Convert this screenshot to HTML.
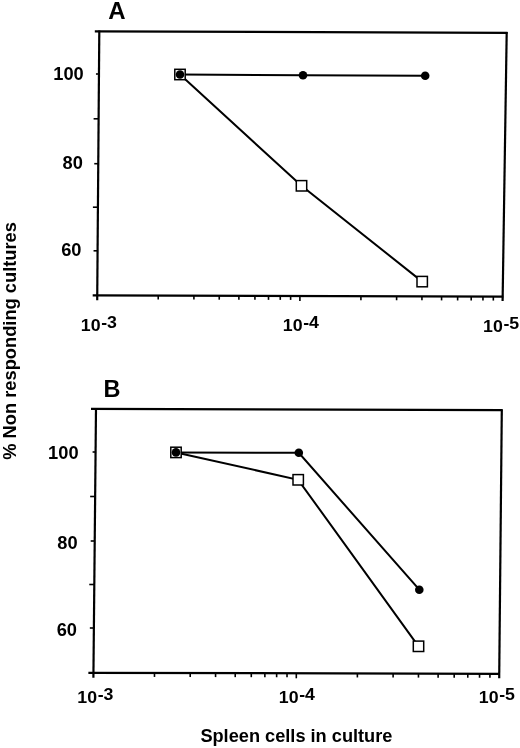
<!DOCTYPE html>
<html><head><meta charset="utf-8"><style>
html,body{margin:0;padding:0;background:#fff;}
svg{display:block;}
text{font-family:"Liberation Sans",Arial,Helvetica,sans-serif;font-weight:bold;fill:#000;}
</style></head><body>
<svg width="520" height="748" viewBox="0 0 520 748">
<rect width="520" height="748" fill="#fff"/>
<g stroke="#000" stroke-linecap="butt">
<line x1="94.80" y1="31.30" x2="507.50" y2="32.80" stroke-width="2.2"/>
<line x1="92.70" y1="295.30" x2="503.40" y2="296.60" stroke-width="2.2"/>
<line x1="99.30" y1="30.50" x2="97.20" y2="300.30" stroke-width="2.2"/>
<line x1="506.70" y1="32.00" x2="502.60" y2="301.10" stroke-width="2.2"/>
<line x1="158.22" y1="295.50" x2="158.22" y2="299.50" stroke-width="1.6"/>
<line x1="193.91" y1="295.61" x2="193.91" y2="299.61" stroke-width="1.6"/>
<line x1="219.24" y1="295.69" x2="219.24" y2="299.69" stroke-width="1.6"/>
<line x1="238.88" y1="295.75" x2="238.88" y2="299.75" stroke-width="1.6"/>
<line x1="254.93" y1="295.81" x2="254.93" y2="299.81" stroke-width="1.6"/>
<line x1="268.50" y1="295.85" x2="268.50" y2="299.85" stroke-width="1.6"/>
<line x1="280.26" y1="295.89" x2="280.26" y2="299.89" stroke-width="1.6"/>
<line x1="290.62" y1="295.92" x2="290.62" y2="299.92" stroke-width="1.6"/>
<line x1="299.90" y1="295.95" x2="299.90" y2="300.95" stroke-width="1.6"/>
<line x1="360.92" y1="296.15" x2="360.92" y2="300.15" stroke-width="1.6"/>
<line x1="396.61" y1="296.26" x2="396.61" y2="300.26" stroke-width="1.6"/>
<line x1="421.94" y1="296.34" x2="421.94" y2="300.34" stroke-width="1.6"/>
<line x1="441.58" y1="296.40" x2="441.58" y2="300.40" stroke-width="1.6"/>
<line x1="457.63" y1="296.46" x2="457.63" y2="300.46" stroke-width="1.6"/>
<line x1="471.20" y1="296.50" x2="471.20" y2="300.50" stroke-width="1.6"/>
<line x1="482.96" y1="296.54" x2="482.96" y2="300.54" stroke-width="1.6"/>
<line x1="493.32" y1="296.57" x2="493.32" y2="300.57" stroke-width="1.6"/>
<line x1="95.96" y1="74.00" x2="98.96" y2="74.00" stroke-width="1.6"/>
<line x1="93.60" y1="118.80" x2="98.60" y2="118.80" stroke-width="1.6"/>
<line x1="94.25" y1="163.70" x2="98.25" y2="163.70" stroke-width="1.6"/>
<line x1="92.90" y1="207.20" x2="97.90" y2="207.20" stroke-width="1.6"/>
<line x1="93.55" y1="250.80" x2="97.55" y2="250.80" stroke-width="1.6"/>
<polyline fill="none" stroke-width="2" points="180,74.5 303,75.3 425.2,75.8"/>
<polyline fill="none" stroke-width="2" points="180,74.5 301.5,185.8 422.2,281.6"/>
<rect x="174.80" y="69.30" width="10.4" height="10.4" fill="#fff" stroke-width="1.5"/>
<rect x="296.30" y="180.60" width="10.4" height="10.4" fill="#fff" stroke-width="1.5"/>
<rect x="417.00" y="276.40" width="10.4" height="10.4" fill="#fff" stroke-width="1.5"/>
<circle cx="180" cy="74.5" r="4.3" fill="#000" stroke="none"/>
<circle cx="303" cy="75.3" r="4.3" fill="#000" stroke="none"/>
<circle cx="425.2" cy="75.8" r="4.3" fill="#000" stroke="none"/>
<line x1="91.00" y1="408.90" x2="502.60" y2="410.20" stroke-width="2.2"/>
<line x1="88.40" y1="672.80" x2="500.00" y2="673.80" stroke-width="2.2"/>
<line x1="96.00" y1="408.10" x2="93.40" y2="677.80" stroke-width="2.2"/>
<line x1="501.80" y1="409.40" x2="499.20" y2="678.30" stroke-width="2.2"/>
<line x1="154.48" y1="672.95" x2="154.48" y2="676.95" stroke-width="1.6"/>
<line x1="190.21" y1="673.04" x2="190.21" y2="677.04" stroke-width="1.6"/>
<line x1="215.56" y1="673.10" x2="215.56" y2="677.10" stroke-width="1.6"/>
<line x1="235.22" y1="673.15" x2="235.22" y2="677.15" stroke-width="1.6"/>
<line x1="251.29" y1="673.19" x2="251.29" y2="677.19" stroke-width="1.6"/>
<line x1="264.87" y1="673.22" x2="264.87" y2="677.22" stroke-width="1.6"/>
<line x1="276.64" y1="673.25" x2="276.64" y2="677.25" stroke-width="1.6"/>
<line x1="287.02" y1="673.28" x2="287.02" y2="677.28" stroke-width="1.6"/>
<line x1="296.30" y1="673.30" x2="296.30" y2="678.30" stroke-width="1.6"/>
<line x1="357.38" y1="673.45" x2="357.38" y2="677.45" stroke-width="1.6"/>
<line x1="393.11" y1="673.54" x2="393.11" y2="677.54" stroke-width="1.6"/>
<line x1="418.46" y1="673.60" x2="418.46" y2="677.60" stroke-width="1.6"/>
<line x1="438.12" y1="673.65" x2="438.12" y2="677.65" stroke-width="1.6"/>
<line x1="454.19" y1="673.69" x2="454.19" y2="677.69" stroke-width="1.6"/>
<line x1="467.77" y1="673.72" x2="467.77" y2="677.72" stroke-width="1.6"/>
<line x1="479.54" y1="673.75" x2="479.54" y2="677.75" stroke-width="1.6"/>
<line x1="489.92" y1="673.78" x2="489.92" y2="677.78" stroke-width="1.6"/>
<line x1="92.58" y1="452.00" x2="95.58" y2="452.00" stroke-width="1.6"/>
<line x1="90.14" y1="496.50" x2="95.14" y2="496.50" stroke-width="1.6"/>
<line x1="90.70" y1="541.00" x2="94.70" y2="541.00" stroke-width="1.6"/>
<line x1="89.27" y1="584.50" x2="94.27" y2="584.50" stroke-width="1.6"/>
<line x1="89.84" y1="628.00" x2="93.84" y2="628.00" stroke-width="1.6"/>
<polyline fill="none" stroke-width="2" points="176,452.4 298.8,452.8 419.3,589.7"/>
<polyline fill="none" stroke-width="2" points="176,452.4 298.2,479.8 418.5,646.3"/>
<rect x="170.80" y="447.20" width="10.4" height="10.4" fill="#fff" stroke-width="1.5"/>
<rect x="293.00" y="474.60" width="10.4" height="10.4" fill="#fff" stroke-width="1.5"/>
<rect x="413.30" y="641.10" width="10.4" height="10.4" fill="#fff" stroke-width="1.5"/>
<circle cx="176" cy="452.4" r="4.3" fill="#000" stroke="none"/>
<circle cx="298.8" cy="452.8" r="4.3" fill="#000" stroke="none"/>
<circle cx="419.3" cy="589.7" r="4.3" fill="#000" stroke="none"/>
</g>
<g>
<text x="108.2" y="19.2" font-size="24" text-anchor="start" >A</text>
<text x="103.6" y="396.6" font-size="23.5" text-anchor="start" >B</text>
<text transform="translate(83.7,79.6) scale(1.045,1)" font-size="17.5" text-anchor="end">100</text>
<text transform="translate(82.9,168.9) scale(1.045,1)" font-size="17.5" text-anchor="end">80</text>
<text transform="translate(81.5,256.2) scale(1.045,1)" font-size="17.5" text-anchor="end">60</text>
<text transform="translate(78.6,459.3) scale(1.045,1)" font-size="17.5" text-anchor="end">100</text>
<text transform="translate(77.6,548.5) scale(1.045,1)" font-size="17.5" text-anchor="end">80</text>
<text transform="translate(77.0,635.7) scale(1.045,1)" font-size="17.5" text-anchor="end">60</text>
<text transform="translate(98.9,330.8) scale(1.045,1)" font-size="17" text-anchor="middle">10<tspan dx="0.6" dy="-3.0">-3</tspan></text>
<text transform="translate(300.9,330.9) scale(1.045,1)" font-size="17" text-anchor="middle">10<tspan dx="0.6" dy="-3.0">-4</tspan></text>
<text transform="translate(501.1,331.6) scale(1.045,1)" font-size="17" text-anchor="middle">10<tspan dx="0.6" dy="-3.0">-5</tspan></text>
<text transform="translate(95.4,702.5) scale(1.045,1)" font-size="17" text-anchor="middle">10<tspan dx="0.6" dy="-3.0">-3</tspan></text>
<text transform="translate(296.9,702.6) scale(1.045,1)" font-size="17" text-anchor="middle">10<tspan dx="0.6" dy="-3.0">-4</tspan></text>
<text transform="translate(496.9,702.8) scale(1.045,1)" font-size="17" text-anchor="middle">10<tspan dx="0.6" dy="-3.0">-5</tspan></text>
<text x="296.4" y="741.9" font-size="18.2" text-anchor="middle" >Spleen cells in culture</text>
<text x="0" y="0" font-size="18.3" text-anchor="middle" transform="translate(16.4,340.9) rotate(-90)">% Non responding cultures</text>
</g>
</svg>
</body></html>
